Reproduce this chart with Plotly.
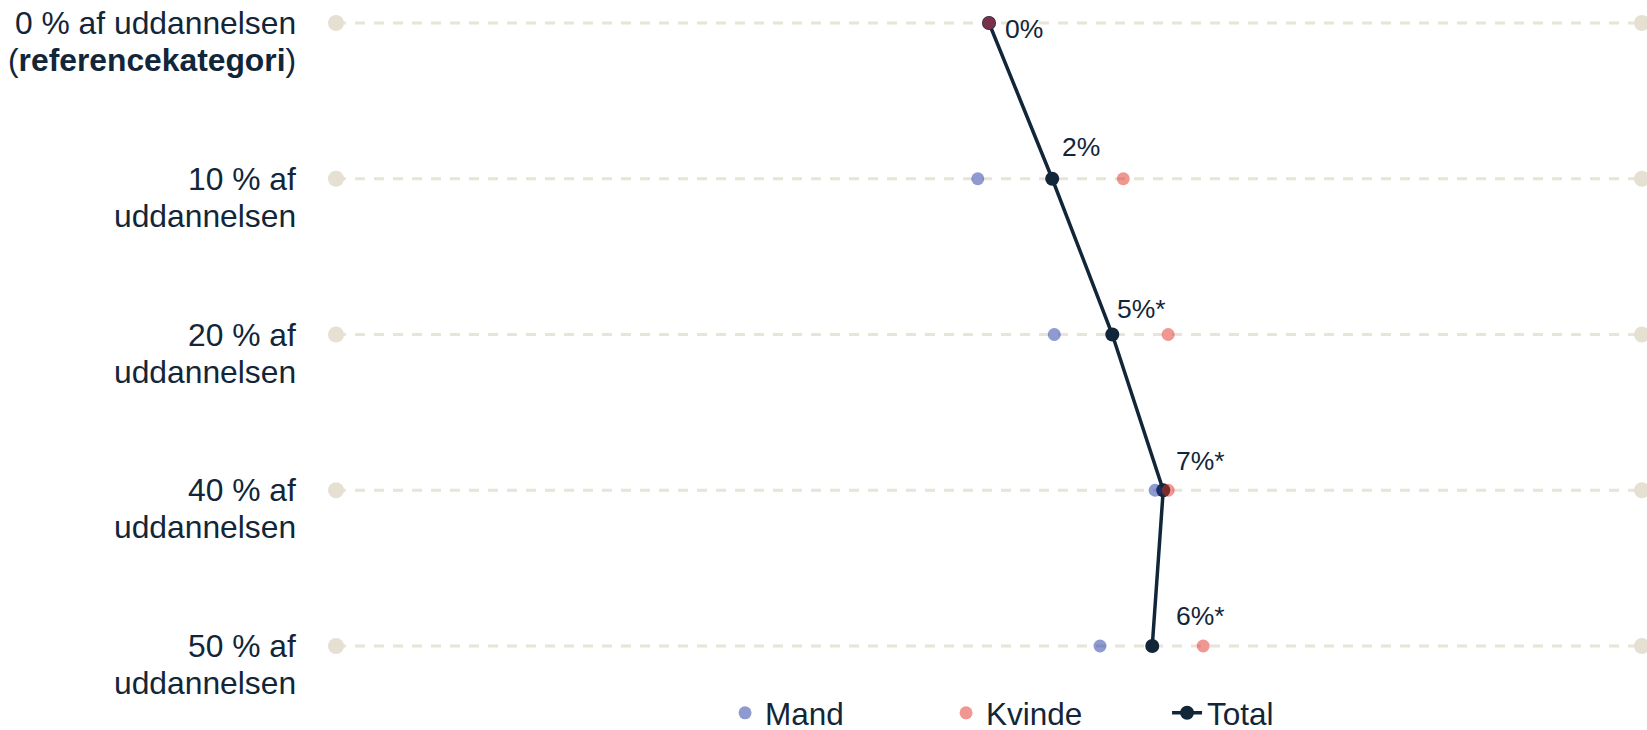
import plotly.graph_objects as go

# ---- data ----
categories = [
    "0 % af uddannelsen<br>(<b>referencekategori</b>)",
    "10 % af<br>uddannelsen",
    "20 % af<br>uddannelsen",
    "40 % af<br>uddannelsen",
    "50 % af<br>uddannelsen",
]
total_values = [0.0, 2.42, 4.72, 6.67, 6.25]
mand_values = [0.0, -0.43, 2.50, 6.36, 4.25]
kvinde_values = [0.0, 5.14, 6.86, 6.86, 8.20]
value_labels = ["0%", "2%", "5%*", "7%*", "6%*"]
x_min, x_max = -25, 25

# ---- styles ----
TEXT = "#12263a"
NAVY = "#12263a"
MAND = "rgba(29,53,161,0.5)"
KVINDE = "rgba(223,47,33,0.5)"
BG_LINE = "#e9e4d8"
BG_DOT = "#e6e0d3"
FONT = "Liberation Sans, Arial, sans-serif"

label_xshift = [15, 9, 4, 12, 23]
label_yshift = [-6, 32, 26, 29, 30]
LINE_GAP = 37  # px between the two lines of a category label

rows = list(range(len(categories)))

fig = go.Figure()

# background dumbbells
bx, by = [], []
for r in rows:
    bx += [x_min, x_max, None]
    by += [r, r, None]
fig.add_trace(go.Scatter(
    x=bx, y=by, mode="lines+markers",
    line=dict(color=BG_LINE, width=3, dash="10px,9px"),
    marker=dict(color=BG_DOT, size=16),
    showlegend=False, hoverinfo="skip", cliponaxis=False,
))

fig.add_trace(go.Scatter(
    x=total_values, y=rows, mode="lines+markers", name="Total",
    line=dict(color=NAVY, width=3.5),
    marker=dict(color=NAVY, size=14),
    legendrank=3, cliponaxis=False,
))
fig.add_trace(go.Scatter(
    x=mand_values, y=rows, mode="markers", name="Mand",
    marker=dict(color=MAND, size=13),
    legendrank=1, cliponaxis=False,
))
fig.add_trace(go.Scatter(
    x=kvinde_values, y=rows, mode="markers", name="Kvinde",
    marker=dict(color=KVINDE, size=13),
    legendrank=2, cliponaxis=False,
))

annotations = []
for r, cat in zip(rows, categories):
    for i, line in enumerate(cat.split("<br>")):
        annotations.append(dict(
            text=line, xref="paper", x=0, xanchor="right", xshift=-39,
            yref="y", y=r, yanchor="middle", yshift=-i * LINE_GAP, align="right",
            showarrow=False, borderpad=0,
            font=dict(size=31.8, color=TEXT, family=FONT),
        ))
for r, v, lab, xs, ys in zip(rows, total_values, value_labels, label_xshift, label_yshift):
    annotations.append(dict(
        text=lab, xref="x", x=v, xanchor="left", xshift=xs,
        yref="y", y=r, yanchor="middle", yshift=ys,
        showarrow=False, borderpad=0,
        font=dict(size=26.5, color=TEXT, family=FONT),
    ))

a = 0.1477
fig.update_layout(
    width=1647, height=730,
    margin=dict(l=336, r=5, t=0, b=61, autoexpand=False),
    paper_bgcolor="white", plot_bgcolor="white",
    font=dict(family=FONT, color=TEXT),
    xaxis=dict(range=[x_min, x_max], visible=False, showgrid=False, zeroline=False),
    yaxis=dict(range=[len(rows) - 1 + a, -a], visible=False, showgrid=False, zeroline=False),
    annotations=annotations,
    showlegend=True,
    legend=dict(
        orientation="h", xref="paper", yref="paper",
        x=0.2979, xanchor="left", y=-0.0655, yanchor="middle",
        font=dict(size=31.5, color=TEXT, family=FONT),
        entrywidth=176, entrywidthmode="pixels",
        bgcolor="rgba(0,0,0,0)", traceorder="normal",
    ),
)

fig.write_html(
    "out.html",
    config={"displayModeBar": False},
    post_script="document.body.style.margin='0';document.body.style.overflow='hidden';",
)
